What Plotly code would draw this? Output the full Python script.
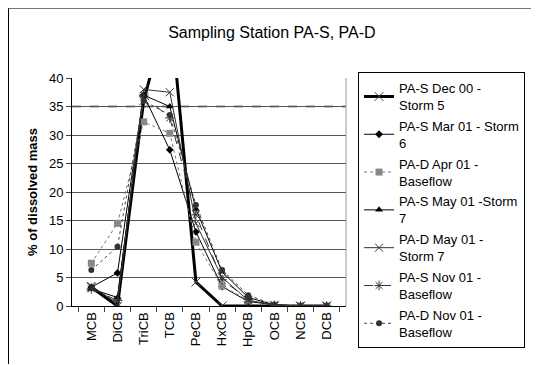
import plotly.graph_objects as go

categories = ["MCB", "DiCB", "TriCB", "TCB", "PeCB", "HxCB", "HpCB", "OCB", "NCB", "DCB"]

pas_dec00_storm5 = [3.3, 0.0, 36.0, 53.0, 4.2, 0.0, 0.0, 0.0, 0.0, 0.0]
pas_mar01_storm6 = [3.3, 5.8, 37.0, 27.4, 13.0, 3.4, 0.8, 0.2, 0.0, 0.0]
pad_apr01_base = [7.5, 14.5, 32.3, 30.3, 11.2, 3.5, 1.0, 0.1, 0.0, 0.0]
pas_may01_storm7 = [3.0, 1.5, 37.0, 35.0, 17.0, 6.0, 1.5, 0.2, 0.0, 0.0]
pad_may01_storm7 = [3.5, 0.5, 38.0, 37.5, 14.5, 5.0, 1.0, 0.2, 0.0, 0.0]
pas_nov01_base = [3.0, 1.0, 37.0, 33.0, 16.0, 4.6, 1.2, 0.1, 0.0, 0.0]
pad_nov01_base = [6.3, 10.4, 36.0, 33.5, 17.7, 6.3, 1.9, 0.2, 0.0, 0.0]

y_ticks = [0, 5, 10, 15, 20, 25, 30, 35, 40]

series = [
    ("PA-S Dec 00 -<br>Storm 5", pas_dec00_storm5, dict(color="black", width=3), dict(symbol="x-thin", size=9, line=dict(color="#444", width=1))),
    ("PA-S Mar 01 - Storm<br>6", pas_mar01_storm6, dict(color="black", width=1), dict(symbol="diamond", size=6, color="black")),
    ("PA-D Apr 01 -<br>Baseflow", pad_apr01_base, dict(color="#777", width=1, dash="dot"), dict(symbol="square", size=7, color="#888")),
    ("PA-S May 01 -Storm<br>7", pas_may01_storm7, dict(color="black", width=1), dict(symbol="triangle-up", size=7, color="black")),
    ("PA-D May 01 -<br>Storm 7", pad_may01_storm7, dict(color="#333", width=1), dict(symbol="x-thin", size=8, line=dict(color="#333", width=1))),
    ("PA-S Nov 01 -<br>Baseflow", pas_nov01_base, dict(color="#333", width=1, dash="dash"), dict(symbol="asterisk", size=8, line=dict(color="#333", width=1))),
    ("PA-D Nov 01 -<br>Baseflow", pad_nov01_base, dict(color="#444", width=1, dash="dot"), dict(symbol="circle", size=6, color="#333")),
]

fig = go.Figure()
for i, (name, vals, line, marker) in enumerate(series):
    fig.add_trace(go.Scatter(x=categories, y=vals, name=name, mode="lines+markers",
                             line=line, marker=marker, cliponaxis=True, legendgroup=f"g{i}"))

fig.update_layout(
    width=531, height=357,
    paper_bgcolor="white", plot_bgcolor="white",
    font=dict(family="Liberation Sans, Arial", size=13, color="black"),
    margin=dict(l=64, r=193, t=70, b=59, autoexpand=False),
    title=dict(text="Sampling Station PA-S, PA-D", x=0.497, xanchor="center", y=0.933, yanchor="middle",
               font=dict(size=16)),
    xaxis=dict(type="category", tickangle=-90, showgrid=False, showline=True, linecolor="black",
               ticks="outside", ticklen=5, tickson="boundaries", mirror=False,
               tickfont=dict(size=13)),
    yaxis=dict(range=[0, 40], tickvals=y_ticks, showgrid=True, gridcolor="#555", gridwidth=1,
               showline=True, linecolor="black", ticks="outside", ticklen=5, zeroline=False,
               title=dict(text="<b>% of dissolved mass</b>", font=dict(size=13), standoff=8),
               tickfont=dict(size=13)),
    legend=dict(x=1.044, xanchor="left", y=1.026, yanchor="top", bordercolor="black", borderwidth=1,
                font=dict(size=13), tracegroupgap=1, itemwidth=30, maxheight=330),
    showlegend=True,
)

fig.add_shape(type="rect", xref="paper", yref="paper", x0=1.0, x1=1.0, y0=0, y1=1,
              line=dict(color="#999", width=1, dash="dot"))
fig.add_shape(type="line", xref="paper", yref="y", x0=0, x1=1, y0=35, y1=35,
              line=dict(color="#888", width=2, dash="dash"), layer="below")
# outer chart-area border (top and left edges visible in the window)
fig.add_shape(type="line", xref="paper", yref="paper", x0=-64.5 / 274, x1=466.0 / 274, y0=1 + 69.5 / 228, y1=1 + 69.5 / 228,
              line=dict(color="#777", width=1))
fig.add_shape(type="line", xref="paper", yref="paper", x0=-63.5 / 274, x1=-63.5 / 274, y0=-58.0 / 228, y1=1 + 69.5 / 228,
              line=dict(color="black", width=1))

fig.write_html("out.html")
